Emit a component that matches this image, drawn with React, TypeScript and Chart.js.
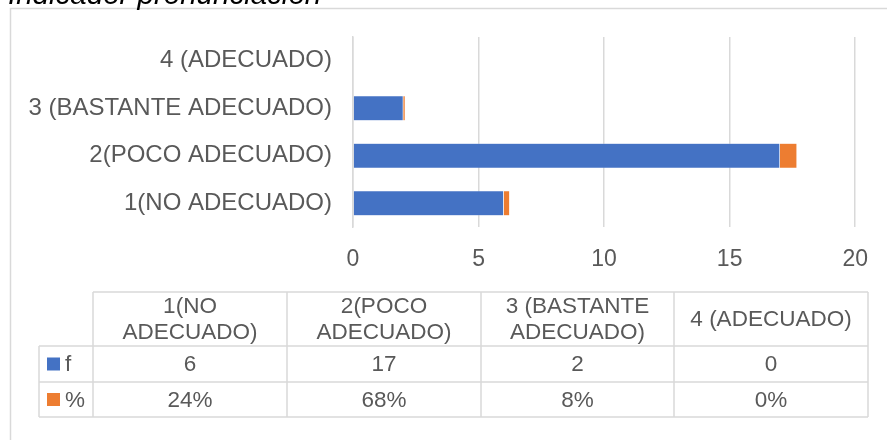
import React, { useEffect, useRef } from 'react';
import { Chart, registerables } from 'chart.js';

Chart.register(...registerables);

const titleText = 'Indicador pronunciación';
const categories = ['1(NO ADECUADO)', '2(POCO ADECUADO)', '3 (BASTANTE ADECUADO)', '4 (ADECUADO)'];
const seriesNames = ['f', '%'];
const fValues = [6, 17, 2, 0];
const pctValues = [0.24, 0.68, 0.08, 0];
const pctLabels = ['24%', '68%', '8%', '0%'];
const xMin = 0;
const xMax = 20;
const xStep = 5;

const BLUE = '#4472C4';
const ORANGE = '#ED7D31';
const GRID = '#D9D9D9';
const TEXT = '#595959';
const FONT = '"Liberation Sans", Arial, sans-serif';

// table layout (px)
const tableCols = [93, 287, 481, 674, 868];
const tableRows = [292, 346, 382, 417];
const legendLeft = 39;

function wrapText(ctx: CanvasRenderingContext2D, text: string, maxW: number): string[] {
  const words = text.split(' ');
  const lines: string[] = [];
  let cur = '';
  for (const w of words) {
    const test = cur ? cur + ' ' + w : w;
    if (ctx.measureText(test).width > maxW && cur) {
      lines.push(cur);
      cur = w;
    } else {
      cur = test;
    }
  }
  if (cur) lines.push(cur);
  return lines;
}

const tablePlugin = {
  id: 'dataTableAndFrame',
  afterDraw(chart: any) {
    const ctx: CanvasRenderingContext2D = chart.ctx;
    ctx.save();
    // outer frame
    ctx.strokeStyle = GRID;
    ctx.lineWidth = 1.5;
    ctx.beginPath();
    ctx.moveTo(10.5, 440);
    ctx.lineTo(10.5, 8.5);
    ctx.lineTo(887, 8.5);
    ctx.stroke();

    // title (cut off at top)
    ctx.font = `italic 29.5px ${FONT}`;
    ctx.fillStyle = '#000000';
    ctx.textAlign = 'left';
    ctx.textBaseline = 'alphabetic';
    ctx.fillText(titleText, 8, 4);

    // table grid
    ctx.strokeStyle = GRID;
    ctx.lineWidth = 1.5;
    ctx.beginPath();
    ctx.moveTo(tableCols[0], tableRows[0]);
    ctx.lineTo(tableCols[tableCols.length - 1], tableRows[0]);
    for (let r = 1; r < tableRows.length; r++) {
      ctx.moveTo(legendLeft, tableRows[r]);
      ctx.lineTo(tableCols[tableCols.length - 1], tableRows[r]);
    }
    ctx.moveTo(legendLeft, tableRows[1]);
    ctx.lineTo(legendLeft, tableRows[tableRows.length - 1]);
    for (const x of tableCols) {
      ctx.moveTo(x, tableRows[0]);
      ctx.lineTo(x, tableRows[tableRows.length - 1]);
    }
    ctx.stroke();

    // header
    ctx.font = `22.5px ${FONT}`;
    ctx.fillStyle = TEXT;
    ctx.textAlign = 'center';
    ctx.textBaseline = 'middle';
    const lh = 26;
    categories.forEach((c, i) => {
      const cx = (tableCols[i] + tableCols[i + 1]) / 2;
      const cy = (tableRows[0] + tableRows[1]) / 2;
      const lines = wrapText(ctx, c, tableCols[i + 1] - tableCols[i] - 10);
      const start = cy - ((lines.length - 1) * lh) / 2;
      lines.forEach((ln, k) => ctx.fillText(ln, cx, start + k * lh + 1));
    });
    // rows
    const rowsData = [fValues.map((v) => String(v)), pctLabels];
    const colors = [BLUE, ORANGE];
    rowsData.forEach((row, r) => {
      const cy = (tableRows[r + 1] + tableRows[r + 2]) / 2;
      row.forEach((t, i) => {
        const cx = (tableCols[i] + tableCols[i + 1]) / 2;
        ctx.textAlign = 'center';
        ctx.fillText(t, cx, cy + 1);
      });
      ctx.fillStyle = colors[r];
      ctx.fillRect(47, cy - 6.5, 13, 13);
      ctx.fillStyle = TEXT;
      ctx.textAlign = 'left';
      ctx.fillText(seriesNames[r], 65, cy + 1);
    });
    ctx.restore();
  },
};

export default function App() {
  const ref = useRef<HTMLCanvasElement | null>(null);
  useEffect(() => {
    if (!ref.current) return;
    const chart = new Chart(ref.current, {
      type: 'bar',
      data: {
        labels: categories,
        datasets: [
          {
            label: seriesNames[0],
            data: fValues,
            backgroundColor: BLUE,
            borderColor: 'rgba(255,255,255,0.5)',
            borderWidth: 0.5,
            barPercentage: 0.66,
            categoryPercentage: 0.8,
          },
          {
            label: seriesNames[1],
            data: pctValues,
            backgroundColor: ORANGE,
            borderColor: 'rgba(255,255,255,0.5)',
            borderWidth: 0.5,
            barPercentage: 0.66,
            categoryPercentage: 0.8,
          },
        ],
      },
      options: {
        indexAxis: 'y',
        responsive: false,
        animation: false,
        layout: { padding: { left: 0, top: 37, right: 31, bottom: 153 } },
        plugins: { legend: { display: false }, tooltip: { enabled: false }, title: { display: false } },
        scales: {
          x: {
            stacked: true,
            min: xMin,
            max: xMax,
            ticks: { stepSize: xStep, color: TEXT, font: { family: FONT, size: 23 }, padding: 19 },
            grid: { color: GRID, lineWidth: 1.5, drawTicks: false },
            border: { display: false },
            afterFit: (s: any) => {
              s.height = 60;
            },
          },
          y: {
            stacked: true,
            reverse: true,
            grid: { display: false, drawTicks: false },
            border: { color: GRID, width: 1.5 },
            ticks: { color: TEXT, font: { family: FONT, size: 24 }, padding: 21 },
            afterFit: (s: any) => {
              s.width = 353;
            },
          },
        },
      },
      plugins: [tablePlugin],
    } as any);
    return () => chart.destroy();
  }, []);
  return (
    <div style={{ position: 'absolute', left: 0, top: 0, width: 887, height: 440, background: '#fff' }}>
      <canvas ref={ref} width={887} height={440} style={{ display: 'block', width: 887, height: 440 }} />
    </div>
  );
}
